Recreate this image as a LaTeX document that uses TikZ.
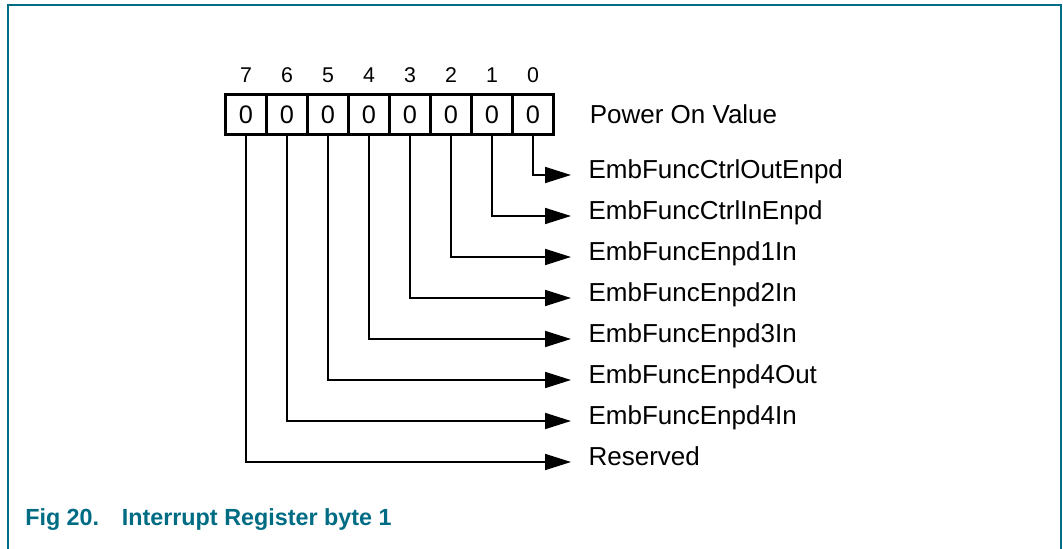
\documentclass[tikz,border=0pt]{standalone}
\usepackage{fontspec}
\setmainfont{Liberation Sans}
\usetikzlibrary{arrows.meta,positioning}
\definecolor{figteal}{RGB}{0,108,132}
\tikzset{
  cell/.style={draw,line width=1.6pt,minimum width=30.75pt,minimum height=30pt,
    inner sep=0pt,outer sep=0pt,font=\fontsize{19}{19}\selectfont},
  bitno/.style={inner sep=0pt,font=\fontsize{16}{16}\selectfont},
  lbl/.style={anchor=west,inner xsep=13pt,inner ysep=0pt,text height=0.75em,
    text depth=0.25em,font=\fontsize{19.5}{19.5}\selectfont},
  feed/.style={line width=1.3pt,-{Triangle[length=19.5pt,width=12pt]}}
}
\begin{document}
\begin{tikzpicture}[x=0.75pt,y=-0.75pt]
  \useasboundingbox (0,0) rectangle (1063,549);
  % frame
  \draw[figteal,line width=1.5pt] (8,549) -- (8,5) -- (1061,5) -- (1061,549);

  % register cells and bit numbers
  \foreach \i in {0,...,7}{
    \node[cell] (c\i) at ({533-41*\i},114.5) {0};
    \node[bitno] (n\i) at ({533-41*\i},75) {\i};
  }
  \node[right=27pt of c0,inner sep=0pt,font=\fontsize{19.5}{19.5}\selectfont] (pov) {Power On Value};

  % field names
  \node[lbl] (l0) at (571,175) {EmbFuncCtrlOutEnpd};
  \node[lbl] (l1) at (571,216) {EmbFuncCtrlInEnpd};
  \node[lbl] (l2) at (571,257) {EmbFuncEnpd1In};
  \node[lbl] (l3) at (571,298) {EmbFuncEnpd2In};
  \node[lbl] (l4) at (571,339) {EmbFuncEnpd3In};
  \node[lbl] (l5) at (571,380) {EmbFuncEnpd4Out};
  \node[lbl] (l6) at (571,421) {EmbFuncEnpd4In};
  \node[lbl] (l7) at (571,462) {Reserved};

  \foreach \i in {0,...,7}
    \draw[feed] (c\i.south) |- (l\i.west);

  \node[anchor=west,inner sep=0pt,text=figteal,font=\fontsize{17.5}{17.5}\selectfont\bfseries]
    (cap) at (25,520) {Fig 20.\hspace{17pt}Interrupt Register byte 1};
\end{tikzpicture}
\end{document}
